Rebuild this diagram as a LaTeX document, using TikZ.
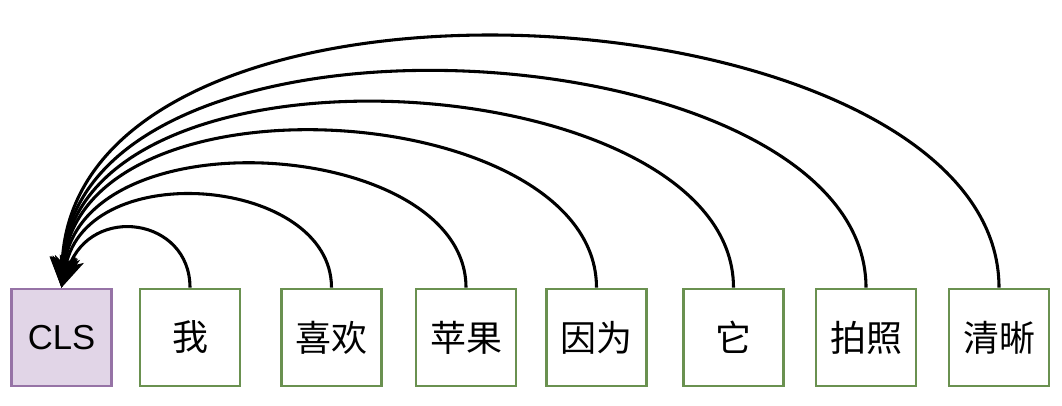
\documentclass[tikz,border=0pt]{standalone}
\usepackage{fontspec}
\setmainfont{Liberation Sans}
\newfontfamily\cjk{Noto Sans CJK SC}
\usetikzlibrary{arrows.meta}
\definecolor{clsfill}{HTML}{E1D5E7}
\definecolor{clsline}{HTML}{9673A6}
\definecolor{tokline}{HTML}{6A9150}
\begin{document}
\begin{tikzpicture}[x=0.75pt,y=-0.75pt,
  box/.style={draw, line width=2pt, minimum width=75pt, minimum height=72.75pt,
              inner sep=0pt, font=\fontsize{26}{30}\selectfont},
  clsbox/.style={box, draw=clsline, fill=clsfill},
  tokbox/.style={box, draw=tokline, fill=white, font=\fontsize{27}{30}\selectfont\cjk},
  attn/.style={draw=black, line width=2.3pt,
               -{Stealth[length=23pt, width=19pt, inset=6pt]}}]
\useasboundingbox (0,0) rectangle (1062,406);
% token boxes
\node[clsbox] (cls) at (61.5,337.5) {CLS};
\node[tokbox] (t1) at (190,337.5) {我};
\node[tokbox] (t2) at (331.5,337.5) {喜欢};
\node[tokbox] (t3) at (466,337.5) {苹果};
\node[tokbox] (t4) at (596.5,337.5) {因为};
\node[tokbox] (t5) at (733.5,337.5) {它};
\node[tokbox] (t6) at (866,337.5) {拍照};
\node[tokbox] (t7) at (999,337.5) {清晰};
% arcs from every token back to CLS
\draw[attn] (t1.north) .. controls +(0,-70) and +(30,-84) .. (cls.north);
\draw[attn] (t2.north) .. controls +(0,-110) and +(26,-132) .. (cls.north);
\draw[attn] (t3.north) .. controls +(0,-148) and +(22,-176) .. (cls.north);
\draw[attn] (t4.north) .. controls +(0,-188) and +(19,-224) .. (cls.north);
\draw[attn] (t5.north) .. controls +(0,-222) and +(16,-266) .. (cls.north);
\draw[attn] (t6.north) .. controls +(0,-260) and +(13,-310) .. (cls.north);
\draw[attn] (t7.north) .. controls +(0,-302) and +(10,-362) .. (cls.north);
\end{tikzpicture}
\end{document}
